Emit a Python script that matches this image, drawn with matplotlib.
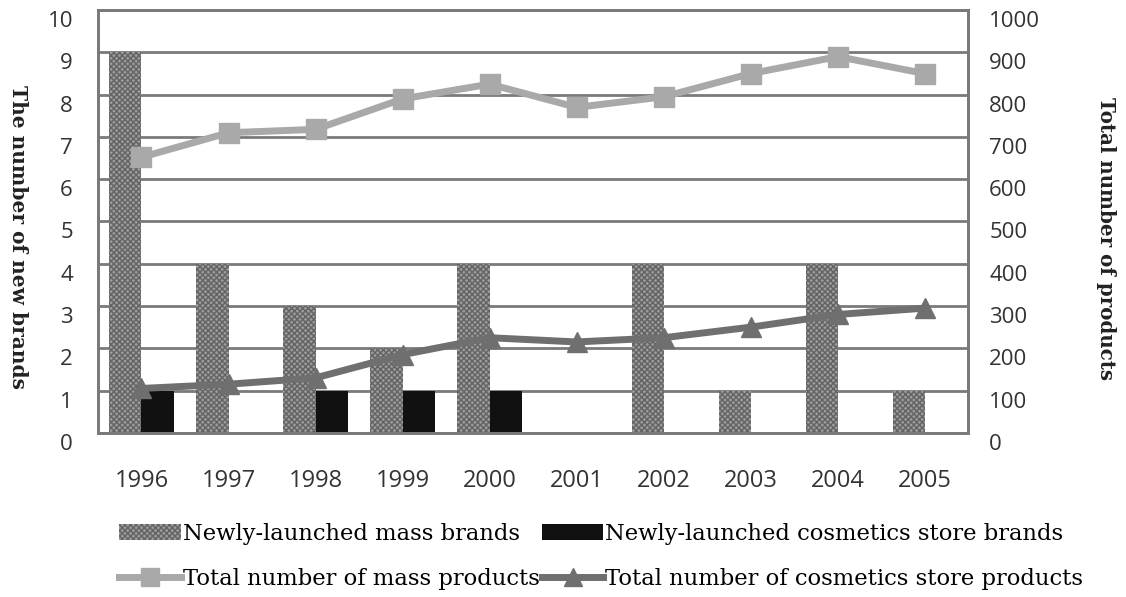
import numpy as np
import matplotlib
matplotlib.use("Agg")
import matplotlib.pyplot as plt
from matplotlib.transforms import ScaledTranslation

years = ["1996", "1997", "1998", "1999", "2000", "2001", "2002", "2003", "2004", "2005"]
mass_brands = [9, 4, 3, 2, 4, 0, 4, 1, 4, 1]
store_brands = [1, 0, 1, 1, 1, 0, 0, 0, 0, 0]
mass_products = [652, 710, 718, 790, 825, 770, 795, 850, 890, 850]
store_products = [105, 115, 130, 185, 225, 215, 225, 250, 280, 295]

frame_grey = "#7a7a7a"
serif = ["DejaVu Serif"]
sans = ["Open Sans", "DejaVu Sans"]

fig = plt.figure(figsize=(11.26, 5.97), dpi=100)
ax = fig.add_axes([0.087, 0.275, 0.773, 0.708])
ax2 = ax.twinx()

x = np.arange(len(years))
w = 0.37
b1 = ax.bar(x - w / 2, mass_brands, w, facecolor="#9c9c9c", edgecolor="#636363",
            hatch="xxxxxx", linewidth=0, zorder=2, label="Newly-launched mass brands")
b2 = ax.bar(x + w / 2, store_brands, w, color="#111111", zorder=2,
            label="Newly-launched cosmetics store brands")

l1, = ax2.plot(x, mass_products, color="#a9a9a9", lw=5, marker="s", ms=15,
               label="Total number of mass products")
l2, = ax2.plot(x, store_products, color="#6f6f6f", lw=5, marker="^", ms=15,
               label="Total number of cosmetics store products")

ax.set_xlim(-0.5, len(years) - 0.5)
ax.set_ylim(0, 10)
ax.set_yticks(range(0, 11))
ax2.set_ylim(0, 1000)
ax2.set_yticks(range(0, 1001, 100))
ax.set_xticks(x)
ax.set_xticklabels(years)

ax.set_axisbelow(True)
ax.yaxis.grid(True, color=frame_grey, lw=2)
for a in (ax, ax2):
    for s in a.spines.values():
        s.set_color(frame_grey)
        s.set_linewidth(2)
    a.tick_params(length=0, labelsize=16, colors="#333333")
ax.tick_params(axis="x", labelsize=17, pad=26)
ax.tick_params(axis="y", pad=18)
ax2.tick_params(axis="y", pad=15)

# tick labels sit a bit lower than their gridlines in the original
shift = ScaledTranslation(0, -0.09, fig.dpi_scale_trans)
for lab in ax.get_yticklabels() + ax2.get_yticklabels():
    lab.set_transform(lab.get_transform() + shift)
for lab in ax.get_xticklabels() + ax.get_yticklabels() + ax2.get_yticklabels():
    lab.set_family(sans)

fig.text(0.016, 0.603, "The number of new brands", rotation=270, ha="center", va="center",
         fontsize=14.5, fontweight="bold", family=serif, color="#222222")
fig.text(0.982, 0.6, "Total number of products", rotation=270, ha="center", va="center",
         fontsize=14.3, fontweight="bold", family=serif, color="#222222")

fig.legend([b1, l1, b2, l2],
           [b1.get_label(), l1.get_label(), b2.get_label(), l2.get_label()],
           ncol=2, loc="lower left", bbox_to_anchor=(0.088, -0.023), frameon=False,
           prop={"family": serif, "size": 16.3}, handlelength=2.7, handletextpad=0.1,
           columnspacing=0.1, labelspacing=1.05, markerscale=0.9)

fig.savefig("out.png", dpi=100)
